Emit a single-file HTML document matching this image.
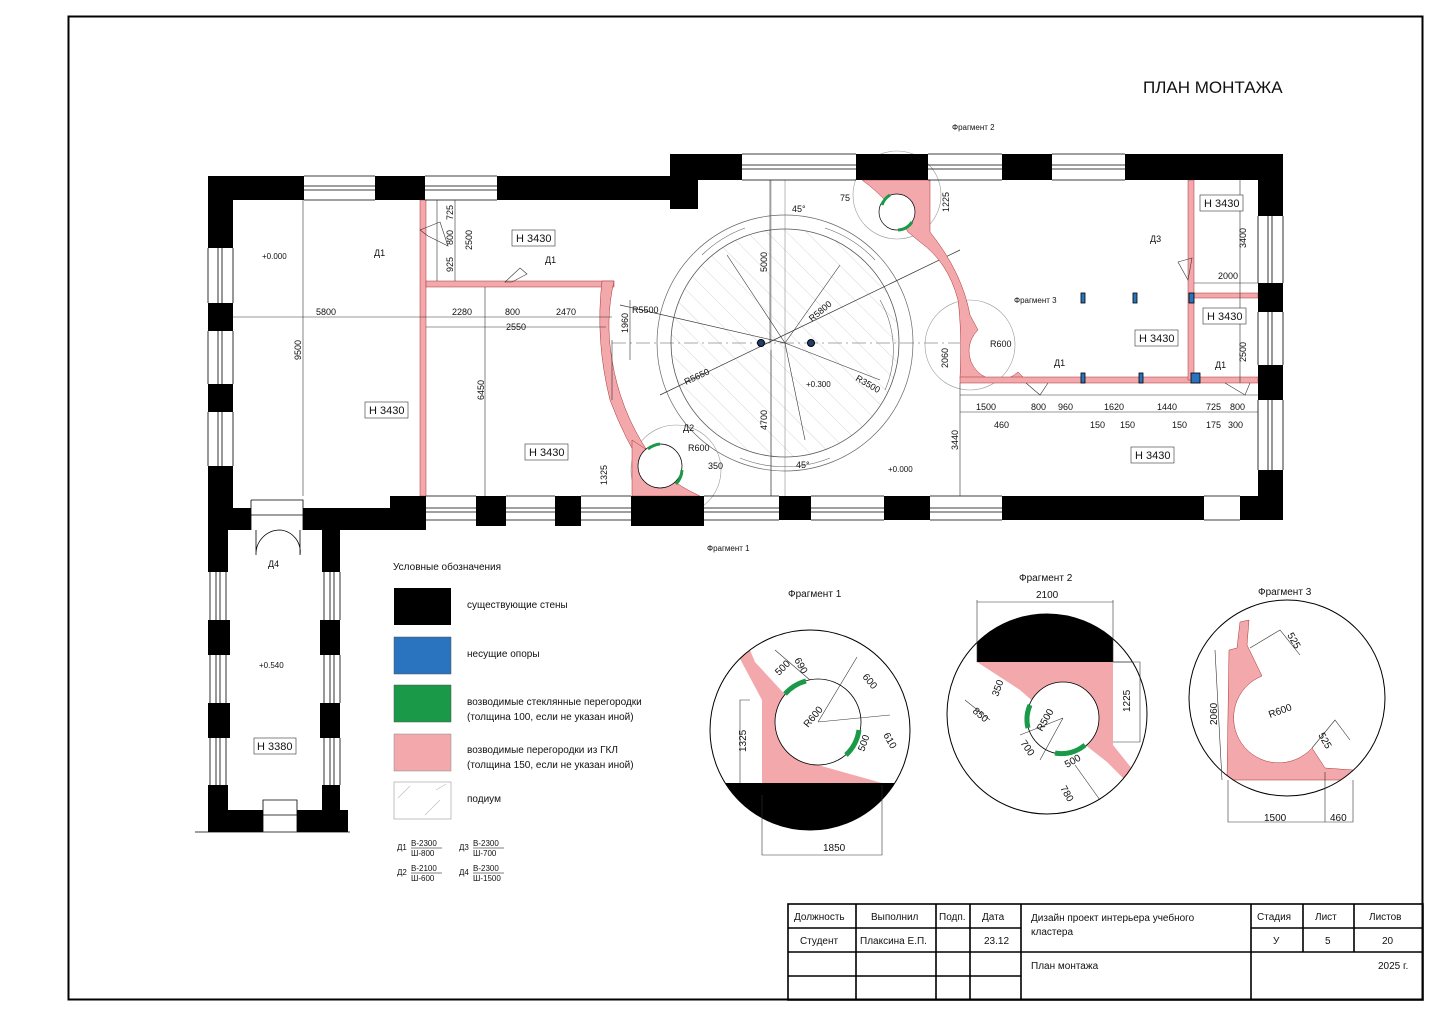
<!DOCTYPE html>
<html><head><meta charset="utf-8"><style>
html,body{margin:0;padding:0;background:#fff;}
svg{display:block;}
text{font-family:"Liberation Sans","DejaVu Sans",sans-serif;fill:#111;}
</style></head><body>
<svg width="1440" height="1018" viewBox="0 0 1440 1018" xmlns="http://www.w3.org/2000/svg">
<defs>
<pattern id="hatch" width="14" height="14" patternUnits="userSpaceOnUse" patternTransform="rotate(-45)">
<line x1="0" y1="0" x2="0" y2="14" stroke="#bbb" stroke-width="0.6"/>
</pattern>
<clipPath id="c1"><circle cx="810" cy="730" r="100"/></clipPath>
<clipPath id="c2"><circle cx="1047" cy="714" r="100"/></clipPath>
<clipPath id="c3"><circle cx="1287" cy="698" r="98"/></clipPath>
</defs>
<rect x="0" y="0" width="1440" height="1018" fill="#fff"/>
<rect x="68.5" y="16.5" width="1354" height="983" fill="none" stroke="#000" stroke-width="2"/>
<text x="1143" y="93" font-size="17">ПЛАН МОНТАЖА</text>

<!-- podium circle -->
<circle cx="785" cy="343" r="114" fill="url(#hatch)" stroke="#555" stroke-width="0.8"/>
<circle cx="785" cy="343" r="128" fill="none" stroke="#666" stroke-width="0.7"/>
<path d="M702 255 A120 120 0 0 1 745 228" fill="none" stroke="#666" stroke-width="0.6"/>
<path d="M825 228 A120 120 0 0 1 875 260" fill="none" stroke="#666" stroke-width="0.6"/>
<path d="M740 458 A120 120 0 0 0 830 458" fill="none" stroke="#666" stroke-width="0.6"/>
<path d="M880 300 A100 100 0 0 1 885 390" fill="none" stroke="#666" stroke-width="0.6"/>
<line x1="612" y1="343" x2="960" y2="343" stroke="#555" stroke-width="0.6" stroke-dasharray="14 4 2 4"/>
<line x1="785" y1="180" x2="785" y2="496" stroke="#777" stroke-width="0.5"/>
<line x1="771" y1="180" x2="771" y2="496" stroke="#777" stroke-width="0.5"/>
<line x1="620" y1="305" x2="785" y2="343" stroke="#333" stroke-width="0.7"/>
<line x1="660" y1="395" x2="960" y2="250" stroke="#333" stroke-width="0.7"/>
<line x1="727" y1="255" x2="785" y2="343" stroke="#333" stroke-width="0.6"/>
<line x1="840" y1="265" x2="785" y2="343" stroke="#333" stroke-width="0.6"/>
<line x1="880" y1="380" x2="785" y2="343" stroke="#333" stroke-width="0.6"/>
<line x1="805" y1="440" x2="785" y2="343" stroke="#333" stroke-width="0.6"/>
<circle cx="761" cy="343" r="3.5" fill="#1f3f6a" stroke="#000"/>
<circle cx="811" cy="343" r="3.5" fill="#1f3f6a" stroke="#000"/>

<!-- fragment circles on plan -->
<circle cx="676" cy="470" r="45" fill="none" stroke="#999" stroke-width="0.6"/>
<circle cx="897" cy="195" r="44" fill="none" stroke="#999" stroke-width="0.6"/>
<circle cx="970" cy="345" r="45" fill="none" stroke="#999" stroke-width="0.6"/>

<!-- pink partitions -->
<g fill="#f3a8ac" stroke="#a33" stroke-width="0.5">
<rect x="420" y="200" width="6" height="296"/>
<rect x="426" y="281" width="188" height="6"/>
<path d="M602 281 L614 281 Q605 320 612 360 Q620 410 648 452 L660 460 L645 470 Q625 440 610 400 Q595 340 602 281Z"/>
<path d="M632 440 L650 452 Q660 478 700 496 L632 496Z"/>
<path d="M862 180 H930 V232 Q962 272 970 315 L978 330 A24 24 0 0 0 1018 372 L1024 378 H960 Q962 330 958 300 Q948 262 920 242 L908 232 Q890 200 862 180Z"/>
<rect x="960" y="377" width="298" height="6"/>
<rect x="1188" y="180" width="6" height="200"/>
<rect x="1194" y="293" width="64" height="5"/>
</g>
<circle cx="897" cy="212" r="18" fill="#fff" stroke="#000" stroke-width="0.7"/>
<circle cx="660" cy="466" r="22" fill="#fff" stroke="#000" stroke-width="0.7"/>
<path d="M648 449 A22 22 0 0 1 660 444" stroke="#1a9a48" stroke-width="3" fill="none"/>
<path d="M682 470 A22 22 0 0 1 676 484" stroke="#1a9a48" stroke-width="3" fill="none"/>
<path d="M882 205 A18 18 0 0 1 890 195" stroke="#1a9a48" stroke-width="3" fill="none"/>
<path d="M898 230 A18 18 0 0 0 912 222" stroke="#1a9a48" stroke-width="3" fill="none"/>
<g fill="#2a73bf" stroke="#000" stroke-width="0.8">
<rect x="1081" y="293" width="4" height="10"/><rect x="1133" y="293" width="4" height="10"/><rect x="1189" y="293" width="5" height="10"/>
<rect x="1081" y="373" width="4" height="10"/><rect x="1139" y="373" width="4" height="10"/><rect x="1191" y="373" width="9" height="10"/>
</g>

<!-- walls -->
<g fill="#000">
<rect x="208" y="176" width="96" height="24"/><rect x="375" y="176" width="50" height="24"/><rect x="497" y="176" width="201" height="24"/>
<rect x="670" y="200" width="28" height="9"/>
<rect x="670" y="154" width="72" height="26"/><rect x="856" y="154" width="72" height="26"/><rect x="1002" y="154" width="50" height="26"/><rect x="1125" y="154" width="158" height="26"/>
<rect x="1258" y="180" width="25" height="36"/><rect x="1258" y="283" width="25" height="29"/><rect x="1258" y="365" width="25" height="35"/><rect x="1258" y="470" width="25" height="50"/>
<rect x="390" y="496" width="36" height="34"/><rect x="476" y="496" width="30" height="30"/><rect x="555" y="496" width="26" height="30"/><rect x="631" y="496" width="73" height="30"/><rect x="779" y="496" width="32" height="24"/><rect x="884" y="496" width="46" height="24"/><rect x="1002" y="496" width="202" height="24"/><rect x="1240" y="496" width="43" height="24"/>
<rect x="208" y="200" width="25" height="48"/><rect x="208" y="303" width="25" height="28"/><rect x="208" y="384" width="25" height="28"/><rect x="208" y="466" width="25" height="64"/>
<rect x="233" y="508" width="18" height="22"/><rect x="303" y="508" width="87" height="22"/>
<rect x="208" y="530" width="20" height="42"/><rect x="208" y="620" width="22" height="35"/><rect x="208" y="703" width="22" height="35"/><rect x="208" y="785" width="20" height="47"/>
<rect x="322" y="530" width="18" height="42"/><rect x="320" y="620" width="20" height="35"/><rect x="320" y="703" width="20" height="35"/><rect x="322" y="785" width="18" height="25"/>
<rect x="208" y="810" width="55" height="22"/><rect x="297" y="810" width="51" height="22"/>
</g>
<!-- window lines -->
<g stroke="#000" stroke-width="0.8" fill="none">
<path d="M304 176H375M304 186H375M304 190H375M304 200H375 M425 176H497M425 186H497M425 190H497M425 200H497"/>
<path d="M742 154H856M742 165H856M742 169H856M742 180H856 M928 154H1002M928 165H1002M928 169H1002M928 180H1002 M1052 154H1125M1052 165H1125M1052 169H1125M1052 180H1125"/>
<path d="M1258 216V283M1268 216V283M1272 216V283M1283 216V283 M1258 312V365M1268 312V365M1272 312V365M1283 312V365 M1258 400V470M1268 400V470M1272 400V470M1283 400V470"/>
<path d="M426 496H476M426 508H476M426 512H476M426 520H476 M506 496H555M506 508H555M506 512H555M506 520H555 M581 496H631M581 508H631M581 512H631M581 520H631 M704 496H779M704 508H779M704 512H779M704 520H779 M811 496H884M811 508H884M811 512H884M811 520H884 M930 496H1002M930 508H1002M930 512H1002M930 520H1002 M1204 496H1240M1204 520H1240"/>
<path d="M208 248V303M218 248V303M222 248V303M233 248V303 M208 331V384M218 331V384M222 331V384M233 331V384 M208 412V466M218 412V466M222 412V466M233 412V466"/>
<path d="M210 572V620M216 572V620M220 572V620M226 572V620 M210 655V703M216 655V703M220 655V703M226 655V703 M210 738V785M216 738V785M220 738V785M226 738V785"/>
<path d="M324 572V620M330 572V620M334 572V620M340 572V620 M324 655V703M330 655V703M334 655V703M340 655V703 M324 738V785M330 738V785M334 738V785M340 738V785"/>
<path d="M251 500H303V530M251 500V530 M251 515H303 M263 800H297V832H263Z M263 815H297 M195 832H350"/>
<path d="M256 530V555A24 24 0 0 1 280 530 M300 530V555A22 22 0 0 0 280 530"/>
</g>

<!-- dimension lines -->
<g stroke="#333" stroke-width="0.6" fill="none">
<path d="M233 317H612 M426 327H606 M303 200V496 M485 287V496 M455 200V281 M437 200V281 M770 180V343 M771 350V496 M960 383V496 M960 395H1258 M960 412H1258 M1240 180V383 M1194 283H1258 M630 300V360 M612 340V400"/>
<path d="M420 230L440 222L448 246L428 236Z M505 282L520 268L527 274L512 282Z M1178 262L1192 258L1188 280Z M1026 383L1040 395L1048 383 M1225 383L1245 395L1250 383"/>
</g>

<!-- labels plan -->
<g font-size="9">
<text x="262" y="259" font-size="8">+0.000</text>
<text x="316" y="315">5800</text>
<text x="452" y="315">2280</text>
<text x="505" y="315">800</text>
<text x="556" y="315">2470</text>
<text x="506" y="330">2550</text>
<text x="374" y="256">Д1</text>
<text x="545" y="263">Д1</text>
<text x="683" y="431">Д2</text>
<text x="1150" y="242">Д3</text>
<text x="1054" y="366">Д1</text>
<text x="1215" y="368">Д1</text>
<text x="268" y="567">Д4</text>
<text x="259" y="668" font-size="8">+0.540</text>
<text x="806" y="387" font-size="8">+0.300</text>
<text x="888" y="472" font-size="8">+0.000</text>
<text x="792" y="212">45°</text>
<text x="796" y="468">45°</text>
<text x="632" y="313">R5500</text>
<text x="686" y="385" transform="rotate(-25 686 385)">R5650</text>
<text x="812" y="322" transform="rotate(-40 812 322)">R5800</text>
<text x="855" y="380" transform="rotate(30 855 380)">R3500</text>
<text x="990" y="347">R600</text>
<text x="688" y="451">R600</text>
<text x="708" y="469">350</text>
<text x="840" y="201">75</text>
<text x="1031" y="410">800</text>
<text x="976" y="410">1500</text>
<text x="1058" y="410">960</text>
<text x="1104" y="410">1620</text>
<text x="1157" y="410">1440</text>
<text x="1206" y="410">725</text>
<text x="1230" y="410">800</text>
<text x="994" y="428">460</text>
<text x="1090" y="428">150</text>
<text x="1120" y="428">150</text>
<text x="1172" y="428">150</text>
<text x="1206" y="428">175</text>
<text x="1228" y="428">300</text>
<text x="1218" y="279">2000</text>
<text x="952" y="130" fill="#666" font-size="8">Фрагмент 2</text>
<text x="1014" y="303" fill="#666" font-size="8">Фрагмент 3</text>
<text x="707" y="551" fill="#666" font-size="8">Фрагмент 1</text>
<g transform="rotate(-90)">
<text x="-360" y="301">9500</text>
<text x="-400" y="484">6450</text>
<text x="-220" y="453">725</text>
<text x="-245" y="453">800</text>
<text x="-272" y="453">925</text>
<text x="-250" y="472">2500</text>
<text x="-272" y="767">5000</text>
<text x="-430" y="767">4700</text>
<text x="-450" y="958">3440</text>
<text x="-368" y="948">2060</text>
<text x="-212" y="949">1225</text>
<text x="-248" y="1246">3400</text>
<text x="-362" y="1246">2500</text>
<text x="-485" y="607">1325</text>
<text x="-333" y="628">1960</text>
</g>
</g>
<g font-size="11" stroke="#333" stroke-width="0.6">
<rect x="512" y="230" width="43" height="16" fill="#fff"/><rect x="365" y="402" width="43" height="16" fill="#fff"/><rect x="525" y="444" width="43" height="16" fill="#fff"/>
<rect x="1200" y="195" width="43" height="16" fill="#fff"/><rect x="1203" y="308" width="43" height="16" fill="#fff"/><rect x="1135" y="330" width="43" height="16" fill="#fff"/><rect x="1131" y="447" width="43" height="16" fill="#fff"/><rect x="254" y="738" width="42" height="16" fill="#fff"/>
</g>
<g font-size="11">
<text x="516" y="242">H 3430</text><text x="369" y="414">H 3430</text><text x="529" y="456">H 3430</text>
<text x="1204" y="207">H 3430</text><text x="1207" y="320">H 3430</text><text x="1139" y="342">H 3430</text><text x="1135" y="459">H 3430</text><text x="257" y="750">H 3380</text>
</g>

<!-- legend -->
<text x="393" y="570" font-size="10">Условные обозначения</text>
<rect x="394" y="588" width="57" height="37" fill="#000"/>
<rect x="394" y="637" width="57" height="37" fill="#2a73bf" stroke="#555" stroke-width="0.5"/>
<rect x="394" y="685" width="57" height="37" fill="#1a9a48" stroke="#555" stroke-width="0.5"/>
<rect x="394" y="734" width="57" height="37" fill="#f3a8ac" stroke="#888" stroke-width="0.5"/>
<rect x="394" y="782" width="57" height="37" fill="#fff" stroke="#999" stroke-width="0.6"/>
<path d="M398 798L410 786M425 815L440 800M436 790L446 784" stroke="#bbb" stroke-width="0.6"/>
<g font-size="10">
<text x="467" y="608">существующие стены</text>
<text x="467" y="657">несущие опоры</text>
<text x="467" y="705">возводимые стеклянные перегородки</text>
<text x="467" y="720">(толщина 100, если не указан иной)</text>
<text x="467" y="753">возводимые перегородки из ГКЛ</text>
<text x="467" y="768">(толщина 150, если не указан иной)</text>
<text x="467" y="802">подиум</text>
</g>
<g font-size="8">
<text x="397" y="850">Д1</text><text x="411" y="846">В-2300</text><line x1="411" y1="848" x2="442" y2="848" stroke="#000" stroke-width="0.5"/><text x="411" y="856">Ш-800</text>
<text x="459" y="850">Д3</text><text x="473" y="846">В-2300</text><line x1="473" y1="848" x2="504" y2="848" stroke="#000" stroke-width="0.5"/><text x="473" y="856">Ш-700</text>
<text x="397" y="875">Д2</text><text x="411" y="871">В-2100</text><line x1="411" y1="873" x2="442" y2="873" stroke="#000" stroke-width="0.5"/><text x="411" y="881">Ш-600</text>
<text x="459" y="875">Д4</text><text x="473" y="871">В-2300</text><line x1="473" y1="873" x2="504" y2="873" stroke="#000" stroke-width="0.5"/><text x="473" y="881">Ш-1500</text>
</g>

<!-- Fragment 1 -->
<text x="788" y="597" font-size="10">Фрагмент 1</text>
<g clip-path="url(#c1)">
<path d="M738 655L750 650L755 662L790 700L800 760L882 783L762 783L762 700Z" fill="#f3a8ac"/>
<rect x="700" y="783" width="220" height="60" fill="#000"/>
</g>
<circle cx="818" cy="722" r="43" fill="#fff" stroke="#000" stroke-width="0.8"/>
<path d="M785 694A43 43 0 0 1 806 681" stroke="#1a9a48" stroke-width="5" fill="none"/>
<path d="M859 730A43 43 0 0 1 846 755" stroke="#1a9a48" stroke-width="5" fill="none"/>
<circle cx="810" cy="730" r="100" fill="none" stroke="#000" stroke-width="1"/>
<g stroke="#333" stroke-width="0.6" fill="none"><path d="M762 795V855H882V785 M750 700H740V783 M818 722L857 657 M818 722L890 715 M775 650L810 680"/></g>
<g font-size="10"><text x="823" y="851">1850</text><text x="779" y="676" transform="rotate(-45 779 676)">500</text><text x="794" y="660" transform="rotate(60 794 660)">690</text><text x="862" y="677" transform="rotate(50 862 677)">600</text><text x="808" y="728" transform="rotate(-50 808 728)">R600</text><text x="864" y="752" transform="rotate(-70 864 752)">500</text><text x="883" y="735" transform="rotate(60 883 735)">610</text><text x="746" y="752" transform="rotate(-90 746 752)">1325</text></g>

<!-- Fragment 2 -->
<text x="1019" y="581" font-size="10">Фрагмент 2</text>
<g clip-path="url(#c2)">
<rect x="977" y="600" width="136" height="62" fill="#000"/>
<path d="M977 662L1113 662L1113 745L1145 785L1140 795L1107 762L1060 725L1020 690Z" fill="#f3a8ac"/>
<path d="M1113 630H1150M1113 662H1150" stroke="#000" stroke-width="0.6"/>
</g>
<circle cx="1063" cy="718" r="36" fill="#fff" stroke="#000" stroke-width="0.8"/>
<path d="M1030 705A36 36 0 0 0 1028 728" stroke="#1a9a48" stroke-width="5" fill="none"/>
<path d="M1055 753A36 36 0 0 0 1085 745" stroke="#1a9a48" stroke-width="5" fill="none"/>
<circle cx="1047" cy="714" r="100" fill="none" stroke="#000" stroke-width="1"/>
<g stroke="#333" stroke-width="0.6" fill="none"><path d="M977 600V662 M1113 600V662 M977 602H1113 M1113 662H1140V742H1113 M965 700L990 720 M1063 718L1040 760 M1063 718L1020 735 M1075 765L1100 800"/></g>
<g font-size="10"><text x="1036" y="598">2100</text><text x="1130" y="712" transform="rotate(-90 1130 712)">1225</text><text x="972" y="712" transform="rotate(40 972 712)">850</text><text x="998" y="697" transform="rotate(-70 998 697)">350</text><text x="1042" y="732" transform="rotate(-60 1042 732)">R500</text><text x="1020" y="743" transform="rotate(55 1020 743)">700</text><text x="1067" y="768" transform="rotate(-30 1067 768)">500</text><text x="1060" y="788" transform="rotate(60 1060 788)">780</text></g>

<!-- Fragment 3 -->
<text x="1258" y="595" font-size="10">Фрагмент 3</text>
<g clip-path="url(#c3)">
<path d="M1240 622 L1249 620 L1247 645 L1262 676 A45 45 0 1 0 1312 748 L1325 768 L1353 770 L1353 780 L1227 780 L1229 650 L1237 648 Z" fill="#f3a8ac" stroke="#a33" stroke-width="0.5"/>
</g>
<circle cx="1287" cy="698" r="98" fill="none" stroke="#000" stroke-width="1"/>
<g stroke="#333" stroke-width="0.6" fill="none"><path d="M1228 780V822H1353V780 M1325 772V822 M1215 650L1222 780 M1250 648L1280 630L1300 655 M1312 748L1335 720L1350 740"/></g>
<g font-size="10"><text x="1217" y="725" transform="rotate(-90 1217 725)">2060</text><text x="1264" y="821">1500</text><text x="1330" y="821">460</text><text x="1270" y="718" transform="rotate(-20 1270 718)">R600</text><text x="1287" y="635" transform="rotate(60 1287 635)">525</text><text x="1318" y="735" transform="rotate(60 1318 735)">525</text></g>

<!-- title block -->
<g stroke="#000" stroke-width="1.6" fill="none">
<rect x="788" y="904" width="635" height="96"/>
<path d="M788 928H1021 M788 952H1423 M788 976H1021 M1251 928H1423 M856 904V1000 M936 904V1000 M970 904V1000 M1021 904V1000 M1251 904V1000 M1303 904V952 M1354 904V952"/>
</g>
<g font-size="10">
<text x="794" y="920">Должность</text><text x="871" y="920">Выполнил</text><text x="939" y="920">Подп.</text><text x="982" y="920">Дата</text>
<text x="800" y="944">Студент</text><text x="860" y="944">Плаксина Е.П.</text><text x="984" y="944">23.12</text>
<text x="1031" y="921">Дизайн проект интерьера учебного</text><text x="1031" y="935">кластера</text>
<text x="1031" y="969">План монтажа</text>
<text x="1257" y="920">Стадия</text><text x="1315" y="920">Лист</text><text x="1369" y="920">Листов</text>
<text x="1273" y="944">У</text><text x="1325" y="944">5</text><text x="1382" y="944">20</text>
<text x="1378" y="969">2025 г.</text>
</g>
</svg>
</body></html>
